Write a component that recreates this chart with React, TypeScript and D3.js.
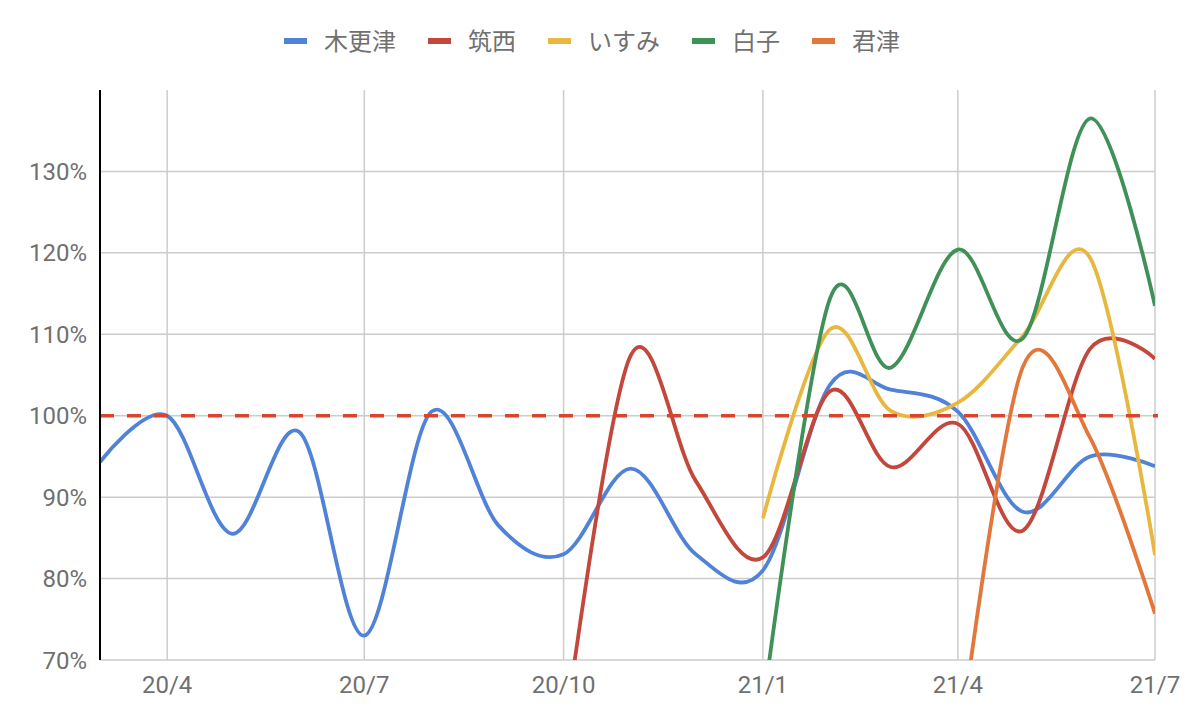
import React from "react";
import * as d3 from "d3";

// monthly points, 2020/3 .. 2021/7
const months = [
  "2020-03", "2020-04", "2020-05", "2020-06", "2020-07", "2020-08", "2020-09",
  "2020-10", "2020-11", "2020-12", "2021-01", "2021-02", "2021-03", "2021-04",
  "2021-05", "2021-06", "2021-07",
];

const kisarazu = [94.3, 100, 85.5, 98, 73, 100.5, 86.5, 83, 93.5, 83, 81, 103.8, 103.2, 100.5, 88.2, 95, 93.8];
const chikusei = [null, null, null, null, null, null, null, 60, 107.4, 92, 82.6, 103, 93.7, 99, 85.9, 108.2, 107];
const isumi = [null, null, null, null, null, null, null, null, null, null, 87.4, 110.6, 100.6, 101.6, 109.8, 119.4, 82.9];
const shirako = [null, null, null, null, null, null, null, null, null, null, 64, 114.4, 105.9, 120.4, 109.5, 136.5, 113.5];
const kimitsu = [null, null, null, null, null, null, null, null, null, null, null, null, null, 58, 106, 97.3, 75.7];

const seriesNames = ["木更津", "筑西", "いすみ", "白子", "君津"];
const seriesValues = [kisarazu, chikusei, isumi, shirako, kimitsu];
const seriesColors = ["#5082d8", "#c4473b", "#e8b73f", "#409157", "#e3763a"];

const yTicks = [70, 80, 90, 100, 110, 120, 130];
const baseline = 100;

const W = 1190;
const H = 716;
const margin = { left: 100, right: 35, top: 90, bottom: 56 };
const font = "Roboto, 'Noto Sans CJK JP', sans-serif";
const textColor = "#707070";

const parse = d3.timeParse("%Y-%m");
const dates = months.map((m) => parse(m) as Date);

export default function App() {
  const x = d3
    .scaleTime()
    .domain([dates[0], dates[dates.length - 1]])
    .range([margin.left, W - margin.right]);
  const y = d3.scaleLinear().domain([70, 140]).range([H - margin.bottom, margin.top]);

  const xTicks = x.ticks(d3.timeMonth.every(3) as d3.TimeInterval);
  const fmt = d3.timeFormat("%y/%-m");

  const line = d3
    .line<[Date, number | null]>()
    .defined((d) => d[1] != null)
    .x((d) => x(d[0]))
    .y((d) => y(d[1] as number))
    .curve(d3.curveCardinal.tension(0));

  // legend layout
  const fs = 24;
  const sw = 23;
  const itemW = seriesNames.map((n) => sw + 17 + n.length * fs + 32);
  const totalW = d3.sum(itemW) - 32;
  let lx = 592 - totalW / 2;
  const legendX = itemW.map((w) => {
    const p = lx;
    lx += w;
    return p;
  });

  const [x0, x1] = x.range();
  const [yb, yt] = y.range();

  return (
    <svg width={W} height={H} style={{ position: "absolute", left: 0, top: 0, background: "#fff" }} fontFamily={font}>
      <defs>
        <clipPath id="plot">
          <rect x={x0} y={yt} width={x1 - x0} height={yb - yt} />
        </clipPath>
      </defs>

      {/* legend */}
      {seriesNames.map((n, i) => (
        <g key={n} transform={`translate(${legendX[i]},41)`}>
          <rect x={0} y={-3} width={sw} height={6} fill={seriesColors[i]} />
          <text x={sw + 17} y={0} dy="0.36em" fontSize={fs} fill={textColor}>
            {n}
          </text>
        </g>
      ))}

      {/* grid */}
      {yTicks.map((t) => (
        <line key={t} x1={x0} x2={x1} y1={y(t)} y2={y(t)} stroke="#cccccc" strokeWidth={1.5} />
      ))}
      {xTicks.map((t) => (
        <line key={+t} x1={x(t)} x2={x(t)} y1={yt} y2={yb} stroke="#cccccc" strokeWidth={1.5} />
      ))}

      {/* y labels */}
      {yTicks.map((t) => (
        <text key={t} x={x0 - 13} y={y(t)} dy="0.36em" textAnchor="end" fontSize={fs} fill={textColor}>
          {t}%
        </text>
      ))}
      {/* x labels */}
      {xTicks.map((t) => (
        <text key={+t} x={x(t)} y={yb + 33} textAnchor="middle" fontSize={fs} fill={textColor}>
          {fmt(t)}
        </text>
      ))}

      {/* series */}
      <g clipPath="url(#plot)">
        {seriesValues.map((vals, i) => (
          <path
            key={seriesNames[i]}
            d={line(dates.map((d, j) => [d, vals[j]] as [Date, number | null])) || ""}
            fill="none"
            stroke={seriesColors[i]}
            strokeWidth={3.8}
            strokeLinejoin="round"
          />
        ))}
      </g>

      {/* 100% reference */}
      <line
        x1={x0}
        x2={x1 + 3}
        y1={y(baseline)}
        y2={y(baseline)}
        stroke="#d9442e"
        strokeWidth={3.5}
        strokeDasharray="14 13"
      />

      {/* left axis */}
      <line x1={x0} x2={x0} y1={yt} y2={yb} stroke="#000" strokeWidth={2} />
    </svg>
  );
}
